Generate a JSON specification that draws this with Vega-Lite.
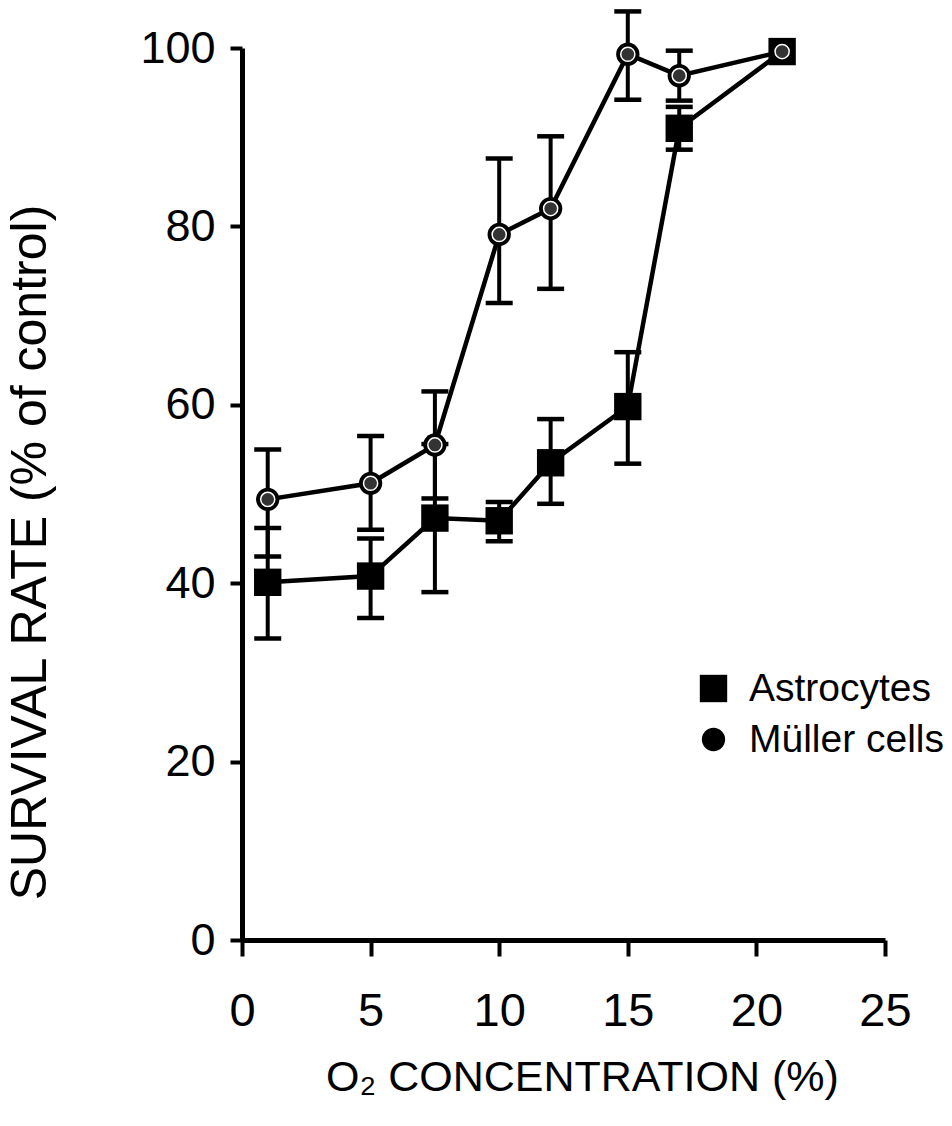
{
  "$schema": "https://vega.github.io/schema/vega-lite/v6.json",
  "width": 643,
  "height": 892,
  "autosize": {"type": "none"},
  "padding": {"left": 242, "top": 48, "right": 67, "bottom": 186},
  "background": "white",
  "config": {
    "view": {"stroke": null},
    "axis": {
      "domainColor": "black",
      "domainWidth": 5,
      "tickColor": "black",
      "tickWidth": 4,
      "grid": false,
      "labelColor": "black",
      "titleColor": "black",
      "labelFont": "Liberation Sans",
      "titleFont": "Liberation Sans",
      "titleFontWeight": "normal",
      "labelFlush": false
    },
    "axisX": {"tickSize": 16, "labelFontSize": 47, "labelPadding": 32, "titleFontSize": 43, "titlePadding": 22, "titleX": 340},
    "axisY": {"tickSize": 12, "labelFontSize": 45, "labelPadding": 15, "titleFontSize": 50, "titlePadding": 84, "titleY": 504}
  },
  "data": {
    "values": [
      {"series": "Astrocytes", "x": 1, "y": 40.1, "lo": 33.8, "hi": 46.2},
      {"series": "Astrocytes", "x": 5, "y": 40.8, "lo": 36.1, "hi": 45.0},
      {"series": "Astrocytes", "x": 7.5, "y": 47.3, "lo": 39.0, "hi": 55.6},
      {"series": "Astrocytes", "x": 10, "y": 47.0, "lo": 44.7, "hi": 49.1},
      {"series": "Astrocytes", "x": 12, "y": 53.5, "lo": 48.9, "hi": 58.4},
      {"series": "Astrocytes", "x": 15, "y": 59.8, "lo": 53.4, "hi": 65.9},
      {"series": "Astrocytes", "x": 17, "y": 91.0, "lo": 88.6, "hi": 93.4},
      {"series": "Astrocytes", "x": 21, "y": 99.6, "lo": null, "hi": null},
      {"series": "Müller cells", "x": 1, "y": 49.4, "lo": 43.0, "hi": 55.0},
      {"series": "Müller cells", "x": 5, "y": 51.2, "lo": 46.0, "hi": 56.5},
      {"series": "Müller cells", "x": 7.5, "y": 55.5, "lo": 49.5, "hi": 61.5},
      {"series": "Müller cells", "x": 10, "y": 79.1, "lo": 71.4, "hi": 87.6},
      {"series": "Müller cells", "x": 12, "y": 82.0, "lo": 73.0, "hi": 90.1},
      {"series": "Müller cells", "x": 15, "y": 99.3, "lo": 94.2, "hi": 104.1},
      {"series": "Müller cells", "x": 17, "y": 96.9, "lo": 94.1, "hi": 99.7},
      {"series": "Müller cells", "x": 21, "y": 99.6, "lo": null, "hi": null}
    ]
  },
  "encoding": {
    "x": {
      "field": "x",
      "type": "quantitative",
      "scale": {"domain": [0, 25], "nice": false, "zero": false},
      "axis": {"values": [0, 5, 10, 15, 20, 25], "title": "O₂ CONCENTRATION (%)"}
    },
    "y": {
      "field": "y",
      "type": "quantitative",
      "scale": {"domain": [0, 100], "nice": false},
      "axis": {"values": [0, 20, 40, 60, 80, 100], "title": "SURVIVAL RATE (% of control)"}
    }
  },
  "layer": [
    {
      "transform": [{"filter": "isValid(datum.lo)"}],
      "mark": {
        "type": "errorbar",
        "color": "black",
        "opacity": 1,
        "thickness": 4,
        "size": 27,
        "rule": {"color": "black", "opacity": 1, "strokeWidth": 4},
        "ticks": {"color": "black", "opacity": 1, "thickness": 4.5}
      },
      "encoding": {
        "y": {"field": "lo", "type": "quantitative", "title": "SURVIVAL RATE (% of control)"},
        "y2": {"field": "hi"}
      }
    },
    {
      "mark": {"type": "line", "color": "black", "strokeWidth": 4.5},
      "encoding": {"detail": {"field": "series", "type": "nominal"}}
    },
    {
      "mark": {"type": "point", "filled": true, "opacity": 1, "color": "black", "size": 750},
      "encoding": {
        "shape": {
          "field": "series",
          "type": "nominal",
          "scale": {
            "domain": ["Astrocytes", "Müller cells"],
            "range": ["M-1,-1H1V1H-1Z", "M0.85,0A0.85,0.85,0,1,1,-0.85,0A0.85,0.85,0,1,1,0.85,0Z"]
          },
          "legend": {
            "orient": "none",
            "legendX": 452,
            "legendY": 621,
            "title": null,
            "padding": 0,
            "labelFont": "Liberation Sans",
            "labelFontSize": 39,
            "labelLimit": 0,
            "labelColor": "black",
            "symbolSize": 750,
            "symbolFillColor": "black",
            "symbolStrokeColor": "black",
            "symbolStrokeWidth": 0,
            "rowPadding": 11,
            "labelOffset": 16
          }
        }
      }
    },
    {
      "transform": [{"filter": "datum.series === 'Müller cells'"}],
      "mark": {"type": "point", "shape": "circle", "filled": true, "opacity": 1, "fill": "#333333", "stroke": "white", "strokeWidth": 1.5, "size": 200}
    }
  ]
}
